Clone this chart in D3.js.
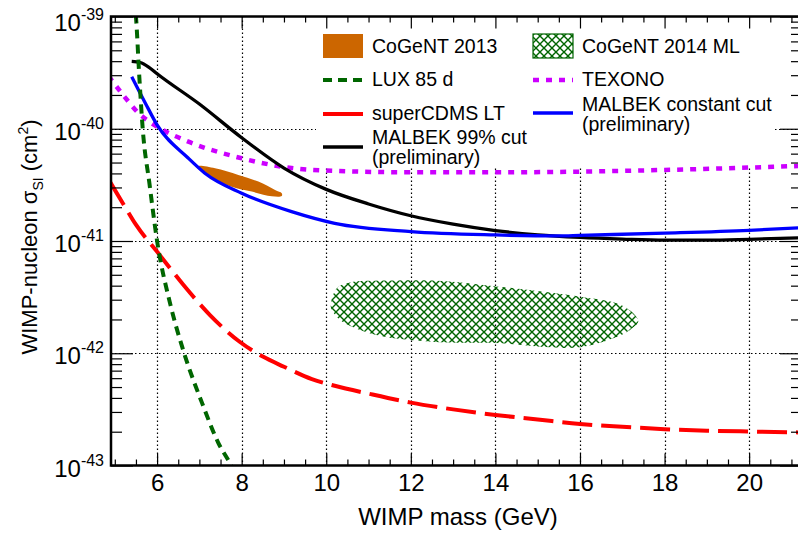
<!DOCTYPE html>
<html>
<head>
<meta charset="utf-8">
<script src="https://cdn.jsdelivr.net/npm/d3@7"></script>
<style>
  body { margin: 0; background: #fff; }
  text { font-family: "Liberation Sans", Arial, Helvetica, sans-serif; fill: #000; }
</style>
</head>
<body>
<script>
// tick values
const massTicks = [6, 8, 10, 12, 14, 16, 18, 20];
const decadeTicks = [-39, -40, -41, -42, -43];

// limit curves: WIMP mass (GeV) and log10 of sigma (cm^2)
const luxMass = [5.46, 5.50, 5.58, 5.66, 5.82, 6.00, 6.31, 6.64, 7.06, 7.45, 7.75, 7.85];
const luxLog = [-38.85, -39.0, -39.54, -40.0, -40.49, -41.0, -41.56, -42.0, -42.44, -42.8, -43.0, -43.08];

const cdmsMass = [4.85, 5.2, 5.5, 6.03, 6.62, 7.25, 7.96, 8.5, 9.0, 9.66, 10.2, 11, 12, 13, 14, 15, 16, 17, 18, 19, 20, 21.3];
const cdmsLog = [-40.45, -40.67, -40.855, -41.11, -41.39, -41.66, -41.9, -42.03, -42.12, -42.23, -42.29, -42.36, -42.44, -42.5, -42.55, -42.59, -42.63, -42.655, -42.676, -42.69, -42.697, -42.706];

const texonoMass = [4.85, 5.24, 5.56, 5.95, 6.74, 8, 9.18, 10.2, 12, 14, 16, 18, 20, 21.3];
const texonoLog = [-39.53, -39.72, -39.86, -39.97, -40.115, -40.263, -40.35, -40.375, -40.388, -40.388, -40.382, -40.367, -40.346, -40.33];

const malbekConstMass = [5.40, 5.72, 6.0, 6.74, 7.13, 8, 9.18, 10.2, 12, 14, 15.5, 16, 18, 20, 21.3];
const malbekConstLog = [-39.536, -39.77, -39.966, -40.263, -40.396, -40.574, -40.738, -40.842, -40.916, -40.946, -40.955, -40.95, -40.93, -40.905, -40.88];

const malbek99Mass = [5.40, 5.6, 5.8, 6.0, 7, 8, 9, 10, 11, 12, 13, 14, 15, 16, 17, 18, 19, 20, 21.3];
const malbek99Log = [-39.40, -39.41, -39.45, -39.51, -39.78, -40.08, -40.35, -40.54, -40.67, -40.775, -40.85, -40.907, -40.945, -40.968, -40.983, -40.993, -40.993, -40.985, -40.97];

// allowed regions (closed outlines)
const cogent13Mass = [6.976, 7.371, 7.922, 8.395, 8.79, 8.948, 8.948, 8.712, 8.239, 7.766, 7.371, 7.057, 6.939];
const cogent13Log = [-40.331, -40.352, -40.411, -40.471, -40.545, -40.574, -40.598, -40.601, -40.56, -40.516, -40.456, -40.382, -40.343];

const cogent14Mass = [10.106, 10.248, 10.563, 11.35, 12.532, 13.714, 14.896, 16.078, 16.868, 17.26, 17.378, 17.182, 16.787, 16.0, 15.291, 14.109, 12.927, 11.981, 11.35, 10.799, 10.326, 10.13];
const cogent14Log = [-41.569, -41.42, -41.37, -41.353, -41.353, -41.391, -41.442, -41.5, -41.554, -41.643, -41.718, -41.792, -41.866, -41.946, -41.946, -41.91, -41.905, -41.881, -41.851, -41.792, -41.703, -41.613];

const w = 798, h = 535;
const pLeft = 111, pRight = 802, pTop = 16.5, pBottom = 465.5;

const svg = d3.select('body').append('svg').attr('width', w).attr('height', h);

const x = d3.scaleLinear().domain([4.91, 21.25]).range([pLeft, pRight]);
const y = d3.scaleLog().domain([1e-43, 1e-39]).range([pBottom, pTop]);

const toPts = (ms, ls) => ms.map((m, i) => [m, Math.pow(10, ls[i])]);

const defs = svg.append('defs');
defs.append('clipPath').attr('id', 'clip')
  .append('rect').attr('x', pLeft).attr('y', pTop).attr('width', pRight - pLeft).attr('height', pBottom - pTop);

const hatch = defs.append('pattern').attr('id', 'hatch')
  .attr('patternUnits', 'userSpaceOnUse').attr('width', 8).attr('height', 8);
hatch.append('path').attr('d', 'M0,0 L8,8 M8,0 L0,8')
  .attr('stroke', '#006400').attr('stroke-width', 1.4).attr('fill', 'none');

// grid
const grid = svg.append('g').attr('stroke', '#000').attr('stroke-width', 1.2)
  .attr('stroke-dasharray', '1.5,2.5');
grid.selectAll('.vg').data(massTicks).enter().append('line')
  .attr('x1', d => Math.round(x(d)) + 0.5).attr('x2', d => Math.round(x(d)) + 0.5)
  .attr('y1', pTop).attr('y2', pBottom);
grid.selectAll('.hg').data([-40, -41, -42]).enter().append('line')
  .attr('x1', pLeft).attr('x2', pRight)
  .attr('y1', d => Math.round(y(Math.pow(10, d))) + 0.5).attr('y2', d => Math.round(y(Math.pow(10, d))) + 0.5);

// legend background
svg.append('rect').attr('x', 316).attr('y', pTop + 1).attr('width', 459).attr('height', 149).attr('fill', '#fff');

const plot = svg.append('g').attr('clip-path', 'url(#clip)');

const region = d3.line().x(d => x(d[0])).y(d => y(d[1])).curve(d3.curveCatmullRomClosed);
plot.append('path').attr('d', region(toPts(cogent14Mass, cogent14Log)))
  .attr('fill', 'url(#hatch)').attr('stroke', 'none');
plot.append('path').attr('d', region(toPts(cogent13Mass, cogent13Log)))
  .attr('fill', '#cc6600').attr('stroke', 'none');

const line = d3.line().x(d => x(d[0])).y(d => y(d[1])).curve(d3.curveMonotoneX);
const curves = [
  { m: texonoMass, l: texonoLog, color: '#cc00ff', width: 4.5, dash: '6,7' },
  { m: malbek99Mass, l: malbek99Log, color: '#000', width: 3.3, dash: null },
  { m: malbekConstMass, l: malbekConstLog, color: '#0000ff', width: 3.3, dash: null },
  { m: cdmsMass, l: cdmsLog, color: '#ff0000', width: 4, dash: '30,9' },
  { m: luxMass, l: luxLog, color: '#006600', width: 4, dash: '9,6' }
];
curves.forEach(c => {
  plot.append('path').attr('d', line(toPts(c.m, c.l)))
    .attr('fill', 'none').attr('stroke', c.color).attr('stroke-width', c.width)
    .attr('stroke-dasharray', c.dash);
});

// axes
const minorMass = d3.range(5, 21.01, 0.5).filter(v => v % 2 !== 0);
const minorSigma = [];
[-43, -42, -41, -40].forEach(e => { for (let k = 2; k <= 9; k++) minorSigma.push(k * Math.pow(10, e)); });
const decades = decadeTicks.map(e => Math.pow(10, e));

function styleAxis(g) {
  g.select('.domain').remove();
  g.selectAll('line').attr('stroke', '#000').attr('stroke-width', 1.2);
}

svg.append('g').attr('transform', `translate(0,${pBottom})`)
  .call(d3.axisBottom(x).tickValues(massTicks).tickSizeInner(-12).tickSizeOuter(0).tickPadding(8))
  .call(styleAxis)
  .call(g => g.selectAll('text').attr('font-size', 24).attr('font-family', '"Liberation Sans", Arial, sans-serif'));
svg.append('g').attr('transform', `translate(0,${pBottom})`)
  .call(d3.axisBottom(x).tickValues(minorMass).tickSizeInner(-6).tickSizeOuter(0).tickFormat(''))
  .call(styleAxis);
svg.append('g').attr('transform', `translate(0,${pTop})`)
  .call(d3.axisTop(x).tickValues(massTicks).tickSizeInner(-12).tickSizeOuter(0).tickFormat(''))
  .call(styleAxis);
svg.append('g').attr('transform', `translate(0,${pTop})`)
  .call(d3.axisTop(x).tickValues(minorMass).tickSizeInner(-6).tickSizeOuter(0).tickFormat(''))
  .call(styleAxis);

svg.append('g').attr('transform', `translate(${pLeft},0)`)
  .call(d3.axisLeft(y).tickValues(decades).tickSizeInner(-22).tickSizeOuter(0).tickFormat(''))
  .call(styleAxis);
svg.append('g').attr('transform', `translate(${pLeft},0)`)
  .call(d3.axisLeft(y).tickValues(minorSigma).tickSizeInner(-11).tickSizeOuter(0).tickFormat(''))
  .call(styleAxis);
svg.append('g').attr('transform', `translate(${pRight},0)`)
  .call(d3.axisRight(y).tickValues(decades).tickSizeInner(-22).tickSizeOuter(0).tickFormat(''))
  .call(styleAxis);
svg.append('g').attr('transform', `translate(${pRight},0)`)
  .call(d3.axisRight(y).tickValues(minorSigma).tickSizeInner(-11).tickSizeOuter(0).tickFormat(''))
  .call(styleAxis);

// frame
svg.append('rect').attr('x', pLeft).attr('y', pTop).attr('width', pRight - pLeft).attr('height', pBottom - pTop)
  .attr('fill', 'none').attr('stroke', '#000').attr('stroke-width', 2.5);

// y tick labels 10^n
const ylab = svg.append('g').selectAll('text').data(decadeTicks).enter().append('text')
  .attr('x', 104).attr('y', d => Math.max(y(Math.pow(10, d)) + 11, 31))
  .attr('text-anchor', 'end').attr('font-size', 24);
ylab.append('tspan').text('10');
ylab.append('tspan').attr('dy', -11).attr('font-size', 16).text(d => String(d));

// axis titles
svg.append('text').attr('x', 458).attr('y', 525).attr('text-anchor', 'middle')
  .attr('font-size', 24).text('WIMP mass (GeV)');
const yt = svg.append('text').attr('transform', 'translate(37,237) rotate(-90)')
  .attr('text-anchor', 'middle').attr('font-size', 22);
yt.append('tspan').text('WIMP-nucleon σ');
yt.append('tspan').attr('font-size', 14).attr('dy', 6).text('SI');
yt.append('tspan').attr('dy', -6).text(' (cm');
yt.append('tspan').attr('font-size', 14).attr('dy', -9).text('2');
yt.append('tspan').attr('dy', 9).text(')');

// legend
const legend = svg.append('g').attr('font-size', 19.5);
legend.append('rect').attr('x', 323).attr('y', 34).attr('width', 40).attr('height', 24).attr('fill', '#cc6600');
legend.append('text').attr('x', 372).attr('y', 53).text('CoGeNT 2013');
legend.append('rect').attr('x', 533).attr('y', 34).attr('width', 40).attr('height', 24)
  .attr('fill', 'url(#hatch)').attr('stroke', '#006400').attr('stroke-width', 1.2);
legend.append('text').attr('x', 582).attr('y', 53).text('CoGeNT 2014 ML');

const legLines = [
  { x: 323, y: 80, color: '#006600', width: 4, dash: '9,6' },
  { x: 533, y: 80, color: '#cc00ff', width: 4.5, dash: '6,7' },
  { x: 323, y: 114, color: '#ff0000', width: 4, dash: null },
  { x: 533, y: 113, color: '#0000ff', width: 3.3, dash: null },
  { x: 323, y: 147, color: '#000', width: 3.3, dash: null }
];
legLines.forEach(l => {
  legend.append('line').attr('x1', l.x).attr('x2', l.x + 40).attr('y1', l.y).attr('y2', l.y)
    .attr('stroke', l.color).attr('stroke-width', l.width).attr('stroke-dasharray', l.dash);
});
legend.append('text').attr('x', 372).attr('y', 86).text('LUX 85 d');
legend.append('text').attr('x', 582).attr('y', 86).text('TEXONO');
legend.append('text').attr('x', 372).attr('y', 120).text('superCDMS LT');
legend.append('text').attr('x', 582).attr('y', 111).text('MALBEK constant cut');
legend.append('text').attr('x', 582).attr('y', 131).text('(preliminary)');
legend.append('text').attr('x', 372).attr('y', 144).text('MALBEK 99% cut');
legend.append('text').attr('x', 372).attr('y', 164).text('(preliminary)');
</script>
</body>
</html>
